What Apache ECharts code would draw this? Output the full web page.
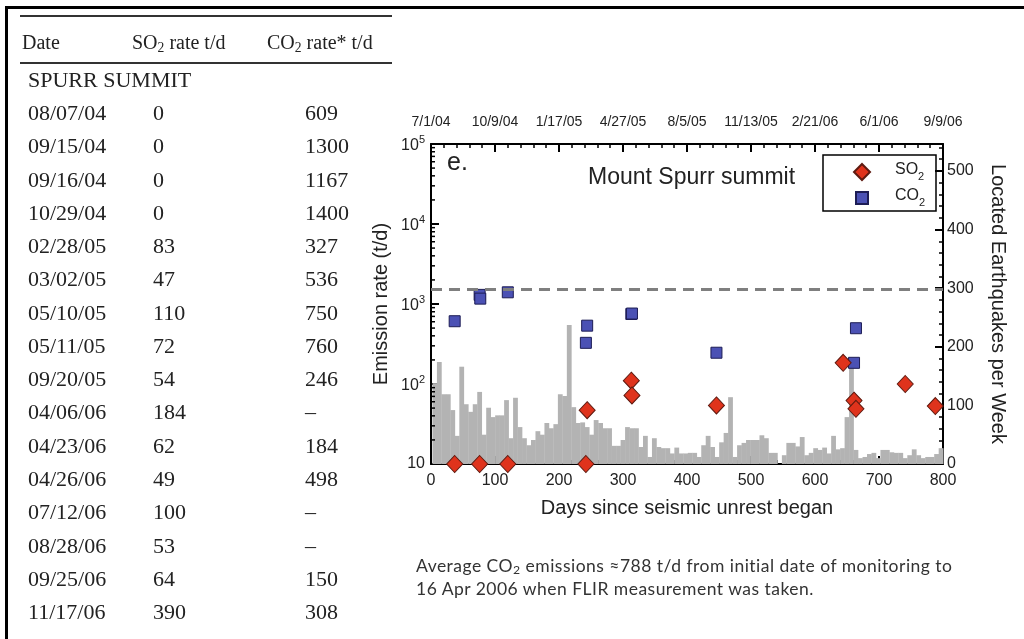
<!DOCTYPE html>
<html>
<head>
<meta charset="utf-8">
<script src="https://cdn.jsdelivr.net/npm/echarts@6/dist/echarts.min.js"></script>
<style>
html,body{margin:0;padding:0;background:#fff;}
#page{position:relative;width:1024px;height:639px;overflow:hidden;background:#fff;}
#chart{position:absolute;left:0;top:0;width:1024px;height:639px;}
.frame-top{position:absolute;left:5px;top:6px;width:1019px;height:3px;background:#000;}
.frame-left{position:absolute;left:5px;top:6px;width:3px;height:633px;background:#000;}
.rule{position:absolute;left:20px;width:372px;height:2px;background:#333;}
.tbl{position:absolute;font-family:"Liberation Serif","DejaVu Serif",serif;color:#222;white-space:nowrap;line-height:22px;}
.tbl sub{font-size:0.68em;vertical-align:-0.25em;line-height:0;}
.note{position:absolute;left:416px;top:554px;font-family:Lato,"Open Sans",sans-serif;font-size:17.5px;letter-spacing:0.48px;color:#333;line-height:23px;white-space:nowrap;}
.note sub{font-size:0.7em;vertical-align:-0.2em;line-height:0;}
</style>
</head>
<body>
<div id="page">
  <div id="chart"></div>
  <div class="frame-top"></div>
  <div class="frame-left"></div>
  <div class="rule" style="top:15px;"></div>
  <div class="rule" style="top:62px;"></div>
  <div class="tbl" style="left:22px;top:31px;font-size:20px;">Date</div>
  <div class="tbl" style="left:132px;top:31px;font-size:20px;">SO<sub>2</sub> rate t/d</div>
  <div class="tbl" style="left:267px;top:31px;font-size:20px;">CO<sub>2</sub> rate* t/d</div>
  <div class="tbl" style="left:28px;top:69px;font-size:22px;">SPURR SUMMIT</div>
  <div id="rows"></div>
  <div class="note">Average CO<sub>2</sub> emissions &#8776;788 t/d from initial date of monitoring to<br>16 Apr 2006 when FLIR measurement was taken.</div>
</div>

<script>
// ---- table data ----
var tableDates = ['08/07/04','09/15/04','09/16/04','10/29/04','02/28/05','03/02/05','05/10/05','05/11/05',
                  '09/20/05','04/06/06','04/23/06','04/26/06','07/12/06','08/28/06','09/25/06','11/17/06'];
var tableSO2 = ['0','0','0','0','83','47','110','72','54','184','62','49','100','53','64','390'];
var tableCO2 = ['609','1300','1167','1400','327','536','750','760','246','\u2013','184','498','\u2013','\u2013','150','308'];

// ---- chart data (days since unrest began) ----
var so2Days = [37, 76, 120, 242, 244, 313, 314, 446, 644, 661, 664, 741, 788];
var so2Rate = [10, 10, 10, 10, 47, 110, 72, 54, 184, 62, 49, 100, 53];   // zero rates drawn on the axis floor (10)
var co2Days = [37, 76, 77, 120, 242, 244, 313, 314, 446, 661, 664];
var co2Rate = [609, 1300, 1167, 1400, 327, 536, 750, 760, 246, 184, 498];
var dashedLevel = 1550;

// located earthquakes per week, one value per weekly bin
var quakeCounts = [138,174,119,119,92,48,166,102,89,102,
                   123,50,96,80,83,83,109,44,113,63,
                   44,32,41,56,50,70,61,68,119,116,
                   237,97,70,71,63,50,75,70,61,61,
                   31,31,41,63,61,61,29,48,12,44,
                   29,27,27,18,28,18,18,19,19,12,
                   32,48,29,12,37,53,114,12,32,36,
                   41,41,41,49,44,19,19,0,15,36,
                   36,30,46,15,19,27,24,28,18,48,
                   25,27,80,177,24,10,12,17,19,10,
                   24,24,20,19,19,10,15,25,15,10,
                   12,12,17,27];
var firstBinCenter = 6;   // day
var binDays = 7;

var topTickLabels = ['7/1/04','10/9/04','1/17/05','4/27/05','8/5/05','11/13/05','2/21/06','6/1/06','9/9/06'];
var logDecades = [10, 100, 1000, 10000];
var logMantissas = [2, 3, 4, 5, 6, 7, 8, 9];

// ---- build table rows ----
var rowsHtml = '';
for (var k = 0; k < tableDates.length; k++) {
  var rowTop = 102 + k * 33.27;
  rowsHtml += '<div class="tbl" style="left:28px;top:' + rowTop + 'px;font-size:22px;">' + tableDates[k] + '</div>';
  rowsHtml += '<div class="tbl" style="left:153px;top:' + rowTop + 'px;font-size:22px;">' + tableSO2[k] + '</div>';
  rowsHtml += '<div class="tbl" style="left:305px;top:' + rowTop + 'px;font-size:22px;">' + tableCO2[k] + '</div>';
}
document.getElementById('rows').innerHTML = rowsHtml;

// ---- chart ----
var font = 'Liberation Sans, Arial, sans-serif';
var quakeData = [];
for (var i = 0; i < quakeCounts.length; i++) {
  quakeData.push([firstBinCenter + i * binDays, quakeCounts[i]]);
}
var so2Data = so2Days.map(function (d, i) { return [d, so2Rate[i]]; });
var co2Data = co2Days.map(function (d, i) { return [d, co2Rate[i]]; });
var minorTickData = [];
logDecades.forEach(function (d) {
  logMantissas.forEach(function (m) { minorTickData.push([0, d * m]); });
});

var chart = echarts.init(document.getElementById('chart'));
var axisLine = {show: true, onZero: false, lineStyle: {color: '#000', width: 2}};
var legendText = function (pad) {
  return {
    color: '#222', fontSize: 16, padding: [0, 0, 0, pad],
    rich: {
      b: {fontSize: 16, fontFamily: font, color: '#222', verticalAlign: 'bottom', padding: [0, 0, 4, 0]},
      s: {fontSize: 11, fontFamily: font, color: '#222', verticalAlign: 'bottom'}
    }
  };
};
var legendFmt = function (name) { return '{b|' + name.slice(0, 2) + '}{s|2}'; };

var option = {
  animation: false,
  textStyle: {fontFamily: font},
  grid: {left: 431, top: 144, width: 512, height: 320},
  graphic: [
    {type: 'text', left: 447, top: 151, style: {text: 'e.', fontSize: 25, fontFamily: font, fill: '#222'}},
    {type: 'text', left: 588, top: 166, style: {text: 'Mount Spurr summit', fontSize: 23, fontFamily: font, fill: '#222'}},
    {type: 'rect', shape: {x: 823, y: 155, width: 113, height: 56}, z: 10,
      style: {fill: 'none', stroke: '#000', lineWidth: 1.5}}
  ],
  legend: [
    {
      left: 853, top: 162, padding: 0, data: ['SO2'],
      itemWidth: 16, itemHeight: 16,
      formatter: legendFmt, textStyle: legendText(20)
    },
    {
      left: 855, top: 188, padding: 0, data: ['CO2'],
      itemWidth: 12, itemHeight: 12,
      formatter: legendFmt, textStyle: legendText(22)
    }
  ],
  xAxis: [
    {
      type: 'value', position: 'bottom', min: 0, max: 800, interval: 100,
      axisLine: axisLine,
      axisTick: {inside: true, length: 8, lineStyle: {color: '#000', width: 2}},
      minorTick: {show: true, splitNumber: 5, length: 4, lineStyle: {color: '#000', width: 1.5}},
      splitLine: {show: false},
      axisLabel: {fontSize: 16, color: '#222', margin: 9},
      name: 'Days since seismic unrest began', nameLocation: 'middle', nameGap: 34,
      nameTextStyle: {fontSize: 20, color: '#222'}
    },
    {
      type: 'value', position: 'top', min: 0, max: 800, interval: 100,
      axisLine: axisLine,
      axisTick: {inside: true, length: 8, lineStyle: {color: '#000', width: 2}},
      minorTick: {show: true, splitNumber: 5, length: 4, lineStyle: {color: '#000', width: 1.5}},
      splitLine: {show: false},
      axisLabel: {fontSize: 14, color: '#222', margin: 15,
        formatter: function (v) { return topTickLabels[Math.round(v / 100)] || ''; }}
    }
  ],
  yAxis: [
    {
      type: 'log', logBase: 10, min: 10, max: 100000, position: 'left',
      axisLine: axisLine,
      axisTick: {inside: true, length: 8, lineStyle: {color: '#000', width: 2}},
      minorTick: {show: false},
      splitLine: {show: false},
      axisLabel: {
        color: '#222', margin: 6,
        formatter: function (v) {
          var e = Math.round(Math.log10(v));
          return e === 1 ? '{b|10}' : '{b|10}{p|' + e + '}';
        },
        rich: {
          b: {fontSize: 16, fontFamily: font, color: '#222', verticalAlign: 'bottom'},
          p: {fontSize: 11, fontFamily: font, color: '#222', verticalAlign: 'bottom', padding: [0, 0, 8, 0]}
        }
      },
      name: 'Emission rate (t/d)', nameLocation: 'middle', nameGap: 40,
      nameTextStyle: {fontSize: 20, color: '#222'}
    },
    {
      type: 'value', position: 'right', min: 0, max: 546, interval: 100,
      axisLine: axisLine,
      axisTick: {inside: true, length: 8, lineStyle: {color: '#000', width: 2}},
      minorTick: {show: true, splitNumber: 5, length: 4, lineStyle: {color: '#000', width: 1.5}},
      splitLine: {show: false},
      axisLabel: {fontSize: 16, color: '#222', margin: 4, showMaxLabel: false},
      name: 'Located Earthquakes per Week', nameLocation: 'middle', nameGap: 45, nameRotate: -90,
      nameTextStyle: {fontSize: 20, color: '#222'}
    }
  ],
  series: [
    {
      name: 'quakes', type: 'bar', xAxisIndex: 0, yAxisIndex: 1,
      data: quakeData, barWidth: 4.8, z: 1,
      itemStyle: {color: '#b3b3b3'},
      silent: true
    },
    {
      // minor ticks of the log axis (2..9 in each decade)
      name: 'logMinor', type: 'custom', xAxisIndex: 0, yAxisIndex: 0,
      data: minorTickData, silent: true, clip: false, z: 5,
      renderItem: function (params, api) {
        var p = api.coord([api.value(0), api.value(1)]);
        return {type: 'line', shape: {x1: p[0], y1: p[1], x2: p[0] + 4, y2: p[1]},
          style: {stroke: '#000', lineWidth: 1.5}};
      }
    },
    {
      name: 'CO2', type: 'scatter', xAxisIndex: 0, yAxisIndex: 0,
      data: co2Data, symbol: 'rect', symbolSize: 11, clip: false, z: 3,
      itemStyle: {color: '#4b51b4', borderColor: '#1d1d55', borderWidth: 1, opacity: 1},
      markLine: {
        silent: true, symbol: 'none', label: {show: false},
        lineStyle: {type: [11, 7], color: '#7f7f7f', width: 3},
        data: [{yAxis: dashedLevel}]
      }
    },
    {
      name: 'SO2', type: 'scatter', xAxisIndex: 0, yAxisIndex: 0,
      data: so2Data, symbol: 'diamond', symbolSize: [16, 17], clip: false, z: 4,
      itemStyle: {color: '#df331c', borderColor: '#5e1a10', borderWidth: 1, opacity: 1}
    }
  ]
};
chart.setOption(option);
</script>
</body>
</html>
